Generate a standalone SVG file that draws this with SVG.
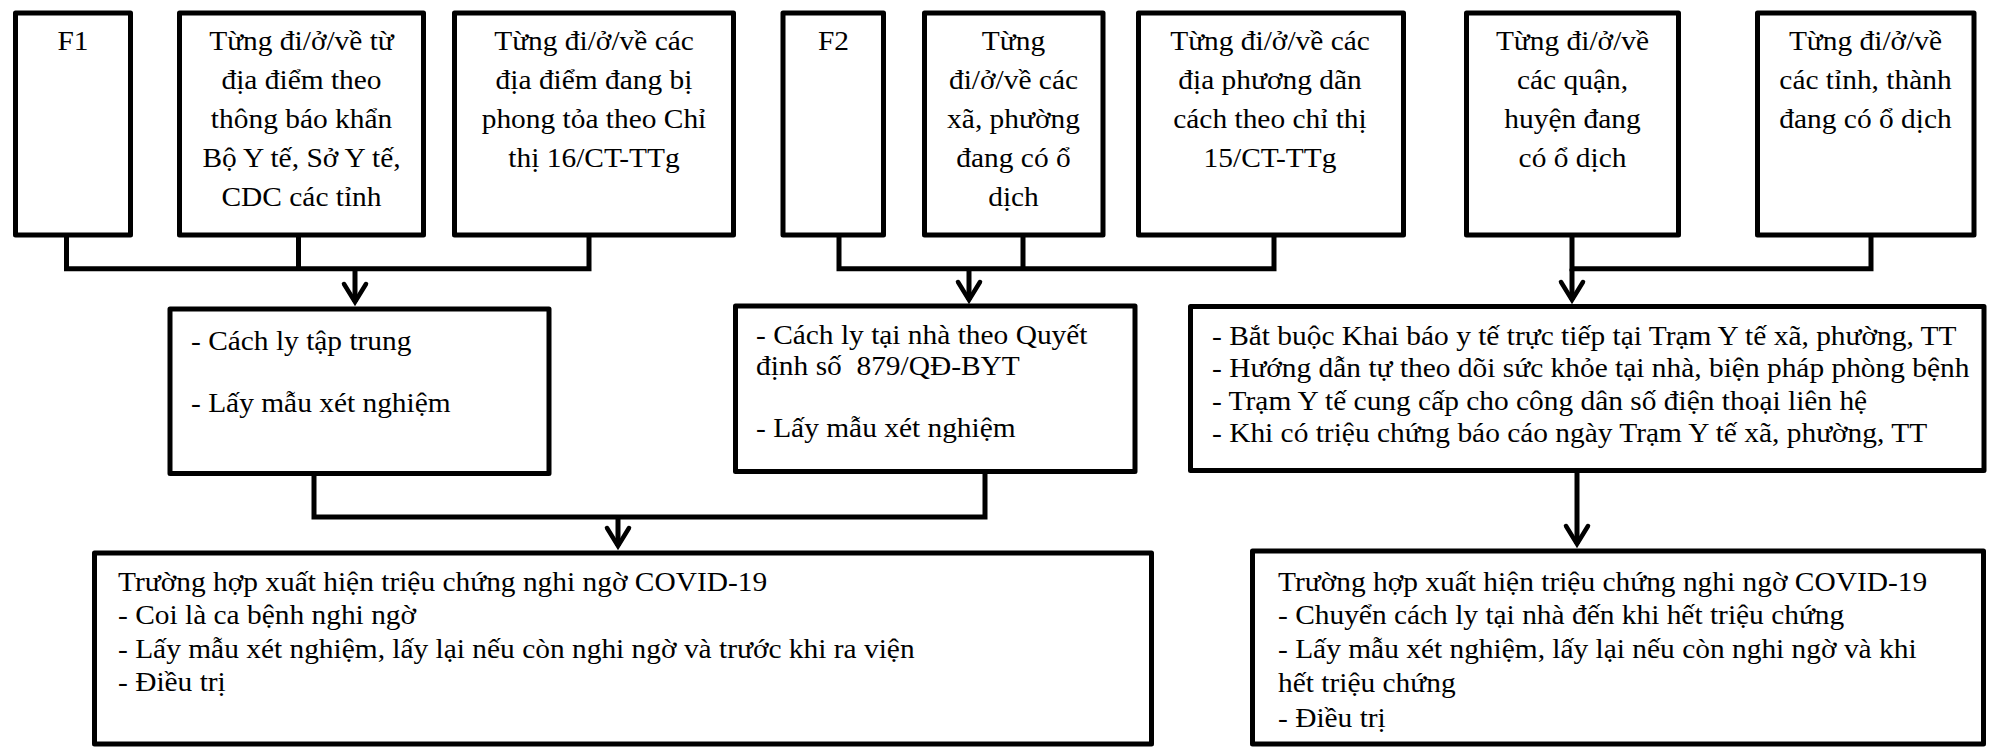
<svg xmlns="http://www.w3.org/2000/svg" width="1990" height="747" viewBox="0 0 1990 747">
<style>
.box{fill:#fff;stroke:#000;stroke-width:5;stroke-linejoin:round}
.t{font-family:"Liberation Serif","DejaVu Serif","Times New Roman",serif;font-size:26.5px;fill:#000}
.c{text-anchor:middle}
</style>
<defs>
<marker id="arr" markerUnits="userSpaceOnUse" viewBox="-25 -15 30 30" markerWidth="30" markerHeight="30" refX="0" refY="0" orient="auto" overflow="visible">
<path d="M-18,-11 L0,0 L-18,11" fill="none" stroke="#000" stroke-width="4.5" stroke-linecap="round" stroke-linejoin="miter"/>
</marker>
</defs>
<rect width="1990" height="747" fill="#fff"/>
<g id="connectors" fill="none" stroke="#000" stroke-width="5">
<path d="M66.5,235 V268.7 H589 V235 M298.5,235 V268.7"/>
<path d="M355,268.7 V302" marker-end="url(#arr)"/>
<path d="M839,235 V268.7 H1274 V235 M1023,235 V268.7"/>
<path d="M969,268.7 V300" marker-end="url(#arr)"/>
<path d="M1572,235 V268.7 H1871 V235"/>
<path d="M1572,268.7 V300" marker-end="url(#arr)"/>
<path d="M314,473 V517 H985 V471"/>
<path d="M618,517 V546" marker-end="url(#arr)"/>
<path d="M1577,470 V544" marker-end="url(#arr)"/>
</g>
<g id="f1">
<rect class="box" x="15.5" y="13" width="115" height="222"/>
<text class="t c" transform="translate(73 50) scale(1.11 1)"><tspan x="0">F1</tspan></text>
</g>
<g id="f1-thong-bao">
<rect class="box" x="179.5" y="13" width="244" height="222"/>
<text class="t c" transform="translate(301.5 50) scale(1.11 1)"><tspan x="0">Từng đi/ở/về từ</tspan><tspan x="0" dy="39">địa điểm theo</tspan><tspan x="0" dy="39">thông báo khẩn</tspan><tspan x="0" dy="39">Bộ Y tế, Sở Y tế,</tspan><tspan x="0" dy="39">CDC các tỉnh</tspan></text>
</g>
<g id="f1-phong-toa">
<rect class="box" x="454.5" y="13" width="279" height="222"/>
<text class="t c" transform="translate(594 50) scale(1.11 1)"><tspan x="0">Từng đi/ở/về các</tspan><tspan x="0" dy="39">địa điểm đang bị</tspan><tspan x="0" dy="39">phong tỏa theo Chỉ</tspan><tspan x="0" dy="39">thị 16/CT-TTg</tspan></text>
</g>
<g id="f2">
<rect class="box" x="783" y="13" width="100.5" height="222"/>
<text class="t c" transform="translate(833.5 50) scale(1.11 1)"><tspan x="0">F2</tspan></text>
</g>
<g id="f2-xa-phuong">
<rect class="box" x="924.5" y="13" width="178.5" height="222"/>
<text class="t c" transform="translate(1013.5 50) scale(1.11 1)"><tspan x="0">Từng</tspan><tspan x="0" dy="39">đi/ở/về các</tspan><tspan x="0" dy="39">xã, phường</tspan><tspan x="0" dy="39">đang có ổ</tspan><tspan x="0" dy="39">dịch</tspan></text>
</g>
<g id="f2-dan-cach">
<rect class="box" x="1138.5" y="13" width="265" height="222"/>
<text class="t c" transform="translate(1270 50) scale(1.11 1)"><tspan x="0">Từng đi/ở/về các</tspan><tspan x="0" dy="39">địa phương dãn</tspan><tspan x="0" dy="39">cách theo chỉ thị</tspan><tspan x="0" dy="39">15/CT-TTg</tspan></text>
</g>
<g id="quan-huyen">
<rect class="box" x="1466.5" y="13" width="212" height="222"/>
<text class="t c" transform="translate(1572.5 50) scale(1.11 1)"><tspan x="0">Từng đi/ở/về</tspan><tspan x="0" dy="39">các quận,</tspan><tspan x="0" dy="39">huyện đang</tspan><tspan x="0" dy="39">có ổ dịch</tspan></text>
</g>
<g id="tinh-thanh">
<rect class="box" x="1757.5" y="13" width="216.5" height="222"/>
<text class="t c" transform="translate(1865.5 50) scale(1.11 1)"><tspan x="0">Từng đi/ở/về</tspan><tspan x="0" dy="39">các tỉnh, thành</tspan><tspan x="0" dy="39">đang có ổ dịch</tspan></text>
</g>
<g id="cach-ly-tap-trung">
<rect class="box" x="170" y="309" width="379" height="164.5"/>
<text class="t" transform="translate(191 350) scale(1.11 1)"><tspan x="0">- Cách ly tập trung</tspan><tspan x="0" dy="62">- Lấy mẫu xét nghiệm</tspan></text>
</g>
<g id="cach-ly-tai-nha">
<rect class="box" x="735.5" y="306" width="399.5" height="165.5"/>
<text class="t" xml:space="preserve" transform="translate(756 344) scale(1.11 1)"><tspan x="0">- Cách ly tại nhà theo Quyết</tspan><tspan x="0" dy="31.5">định số  879/QĐ-BYT</tspan><tspan x="0" dy="62">- Lấy mẫu xét nghiệm</tspan></text>
</g>
<g id="khai-bao">
<rect class="box" x="1190.5" y="306.5" width="793.5" height="164"/>
<text class="t" transform="translate(1212 345) scale(1.11 1)"><tspan x="0">- Bắt buộc Khai báo y tế trực tiếp tại Trạm Y tế xã, phường, TT</tspan><tspan x="0" dy="32.3">- Hướng dẫn tự theo dõi sức khỏe tại nhà, biện pháp phòng bệnh</tspan><tspan x="0" dy="32.3">- Trạm Y tế cung cấp cho công dân số điện thoại liên hệ</tspan><tspan x="0" dy="32.3">- Khi có triệu chứng báo cáo ngày Trạm Y tế xã, phường, TT</tspan></text>
</g>
<g id="trieu-chung-1">
<rect class="box" x="94.5" y="553" width="1057" height="191"/>
<text class="t" transform="translate(118 591) scale(1.11 1)"><tspan x="0">Trường hợp xuất hiện triệu chứng nghi ngờ COVID-19</tspan><tspan x="0" dy="33.3">- Coi là ca bệnh nghi ngờ</tspan><tspan x="0" dy="33.3">- Lấy mẫu xét nghiệm, lấy lại nếu còn nghi ngờ và trước khi ra viện</tspan><tspan x="0" dy="33.3">- Điều trị</tspan></text>
</g>
<g id="trieu-chung-2">
<rect class="box" x="1252.5" y="551" width="731" height="193"/>
<text class="t" transform="translate(1278 591) scale(1.11 1)"><tspan x="0">Trường hợp xuất hiện triệu chứng nghi ngờ COVID-19</tspan><tspan x="0" dy="33.5">- Chuyển cách ly tại nhà đến khi hết triệu chứng</tspan><tspan x="0" dy="33.5">- Lấy mẫu xét nghiệm, lấy lại nếu còn nghi ngờ và khi</tspan><tspan x="0" dy="34">hết triệu chứng</tspan><tspan x="0" dy="35.5">- Điều trị</tspan></text>
</g>
</svg>
